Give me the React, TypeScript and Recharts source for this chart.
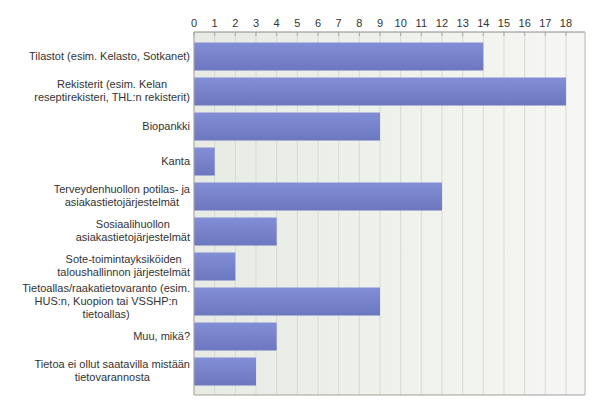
import React from "react";
import { BarChart, Bar, XAxis, YAxis, CartesianGrid } from "recharts";

const categories: string[] = [
  "Tilastot (esim. Kelasto, Sotkanet)",
  "Rekisterit (esim. Kelan\nreseptirekisteri, THL:n rekisterit)",
  "Biopankki",
  "Kanta",
  "Terveydenhuollon potilas- ja\nasiakastietojärjestelmät",
  "Sosiaalihuollon\nasiakastietojärjestelmät",
  "Sote-toimintayksiköiden\ntaloushallinnon järjestelmät",
  "Tietoallas/raakatietovaranto (esim.\nHUS:n, Kuopion tai VSSHP:n\ntietoallas)",
  "Muu, mikä?",
  "Tietoa ei ollut saatavilla mistään\ntietovarannosta",
];
const values: number[] = [14, 18, 9, 1, 12, 4, 2, 9, 4, 3];
const xTicks: number[] = [0, 1, 2, 3, 4, 5, 6, 7, 8, 9, 10, 11, 12, 13, 14, 15, 16, 17, 18];

const data = categories.map((c, i) => ({ name: c, value: values[i] }));

const FONT = "11px 'Liberation Sans', Arial, sans-serif";
let ctx: CanvasRenderingContext2D | null = null;
function measure(s: string): number {
  if (!ctx) {
    const c = document.createElement("canvas");
    ctx = c.getContext("2d");
  }
  if (!ctx) return s.length * 5.5;
  ctx.font = FONT;
  return ctx.measureText(s).width;
}

const CatTick = (props: any) => {
  const { x, y, payload } = props;
  const lines: string[] = String(payload.value).split("\n");
  const w = Math.max(...lines.map(measure));
  const cx = x - w / 2;
  const lh = 13;
  const startY = y - ((lines.length - 1) * lh) / 2;
  return (
    <g>
      {lines.map((l, i) => (
        <text
          key={i}
          x={cx}
          y={startY + i * lh}
          dy="0.35em"
          textAnchor="middle"
          fill="#333"
          style={{ font: FONT }}
        >
          {l}
        </text>
      ))}
    </g>
  );
};

export default function App() {
  return (
    <div style={{ position: "absolute", left: 0, top: 0, background: "#fff" }}>
      <BarChart
        width={600}
        height={410}
        data={data}
        layout="vertical"
        margin={{ top: 0, right: 0, bottom: 0, left: 0 }}
        barSize={28}
      >
        <defs>
          <linearGradient id="bg" x1="0" y1="0" x2="1" y2="0">
            <stop offset="0%" stopColor="#e8ebe4" />
            <stop offset="100%" stopColor="#f6f7f4" />
          </linearGradient>
          <linearGradient id="barg" x1="0" y1="0" x2="0" y2="1">
            <stop offset="0%" stopColor="#828ed5" />
            <stop offset="100%" stopColor="#6c77c0" />
          </linearGradient>
        </defs>
        <CartesianGrid
          horizontal={false}
          stroke="#d8dad4"
          fill="url(#bg)"
          fillOpacity={1}
        />
        <XAxis
          type="number"
          orientation="top"
          domain={[0, 18.92]}
          ticks={xTicks}
          allowDataOverflow
          height={32}
          axisLine={{ stroke: "#8a8a8a" }}
          tickLine={{ stroke: "#a8a8a8" }}
          tickSize={-4}
          tickMargin={9}
          tick={{ fill: "#333", fontSize: 11, fontFamily: "'Liberation Sans', Arial, sans-serif" }}
          interval={0}
        />
        <XAxis
          xAxisId="b"
          type="number"
          orientation="bottom"
          domain={[0, 18.92]}
          height={15}
          tick={false}
          tickLine={false}
          axisLine={{ stroke: "#a0a0a0" }}
        />
        <YAxis
          type="category"
          dataKey="name"
          width={194}
          interval={0}
          padding={{ top: 6.5, bottom: 6.5 }}
          axisLine={{ stroke: "#a8a8a8" }}
          tickLine={false}
          tickSize={0}
          tickMargin={4}
          tick={<CatTick />}
        />
        <YAxis
          yAxisId="r"
          type="number"
          orientation="right"
          width={15}
          tick={false}
          tickLine={false}
          axisLine={{ stroke: "#c4c4c4" }}
        />
        <Bar dataKey="value" fill="url(#barg)" isAnimationActive={false} />
      </BarChart>
    </div>
  );
}
